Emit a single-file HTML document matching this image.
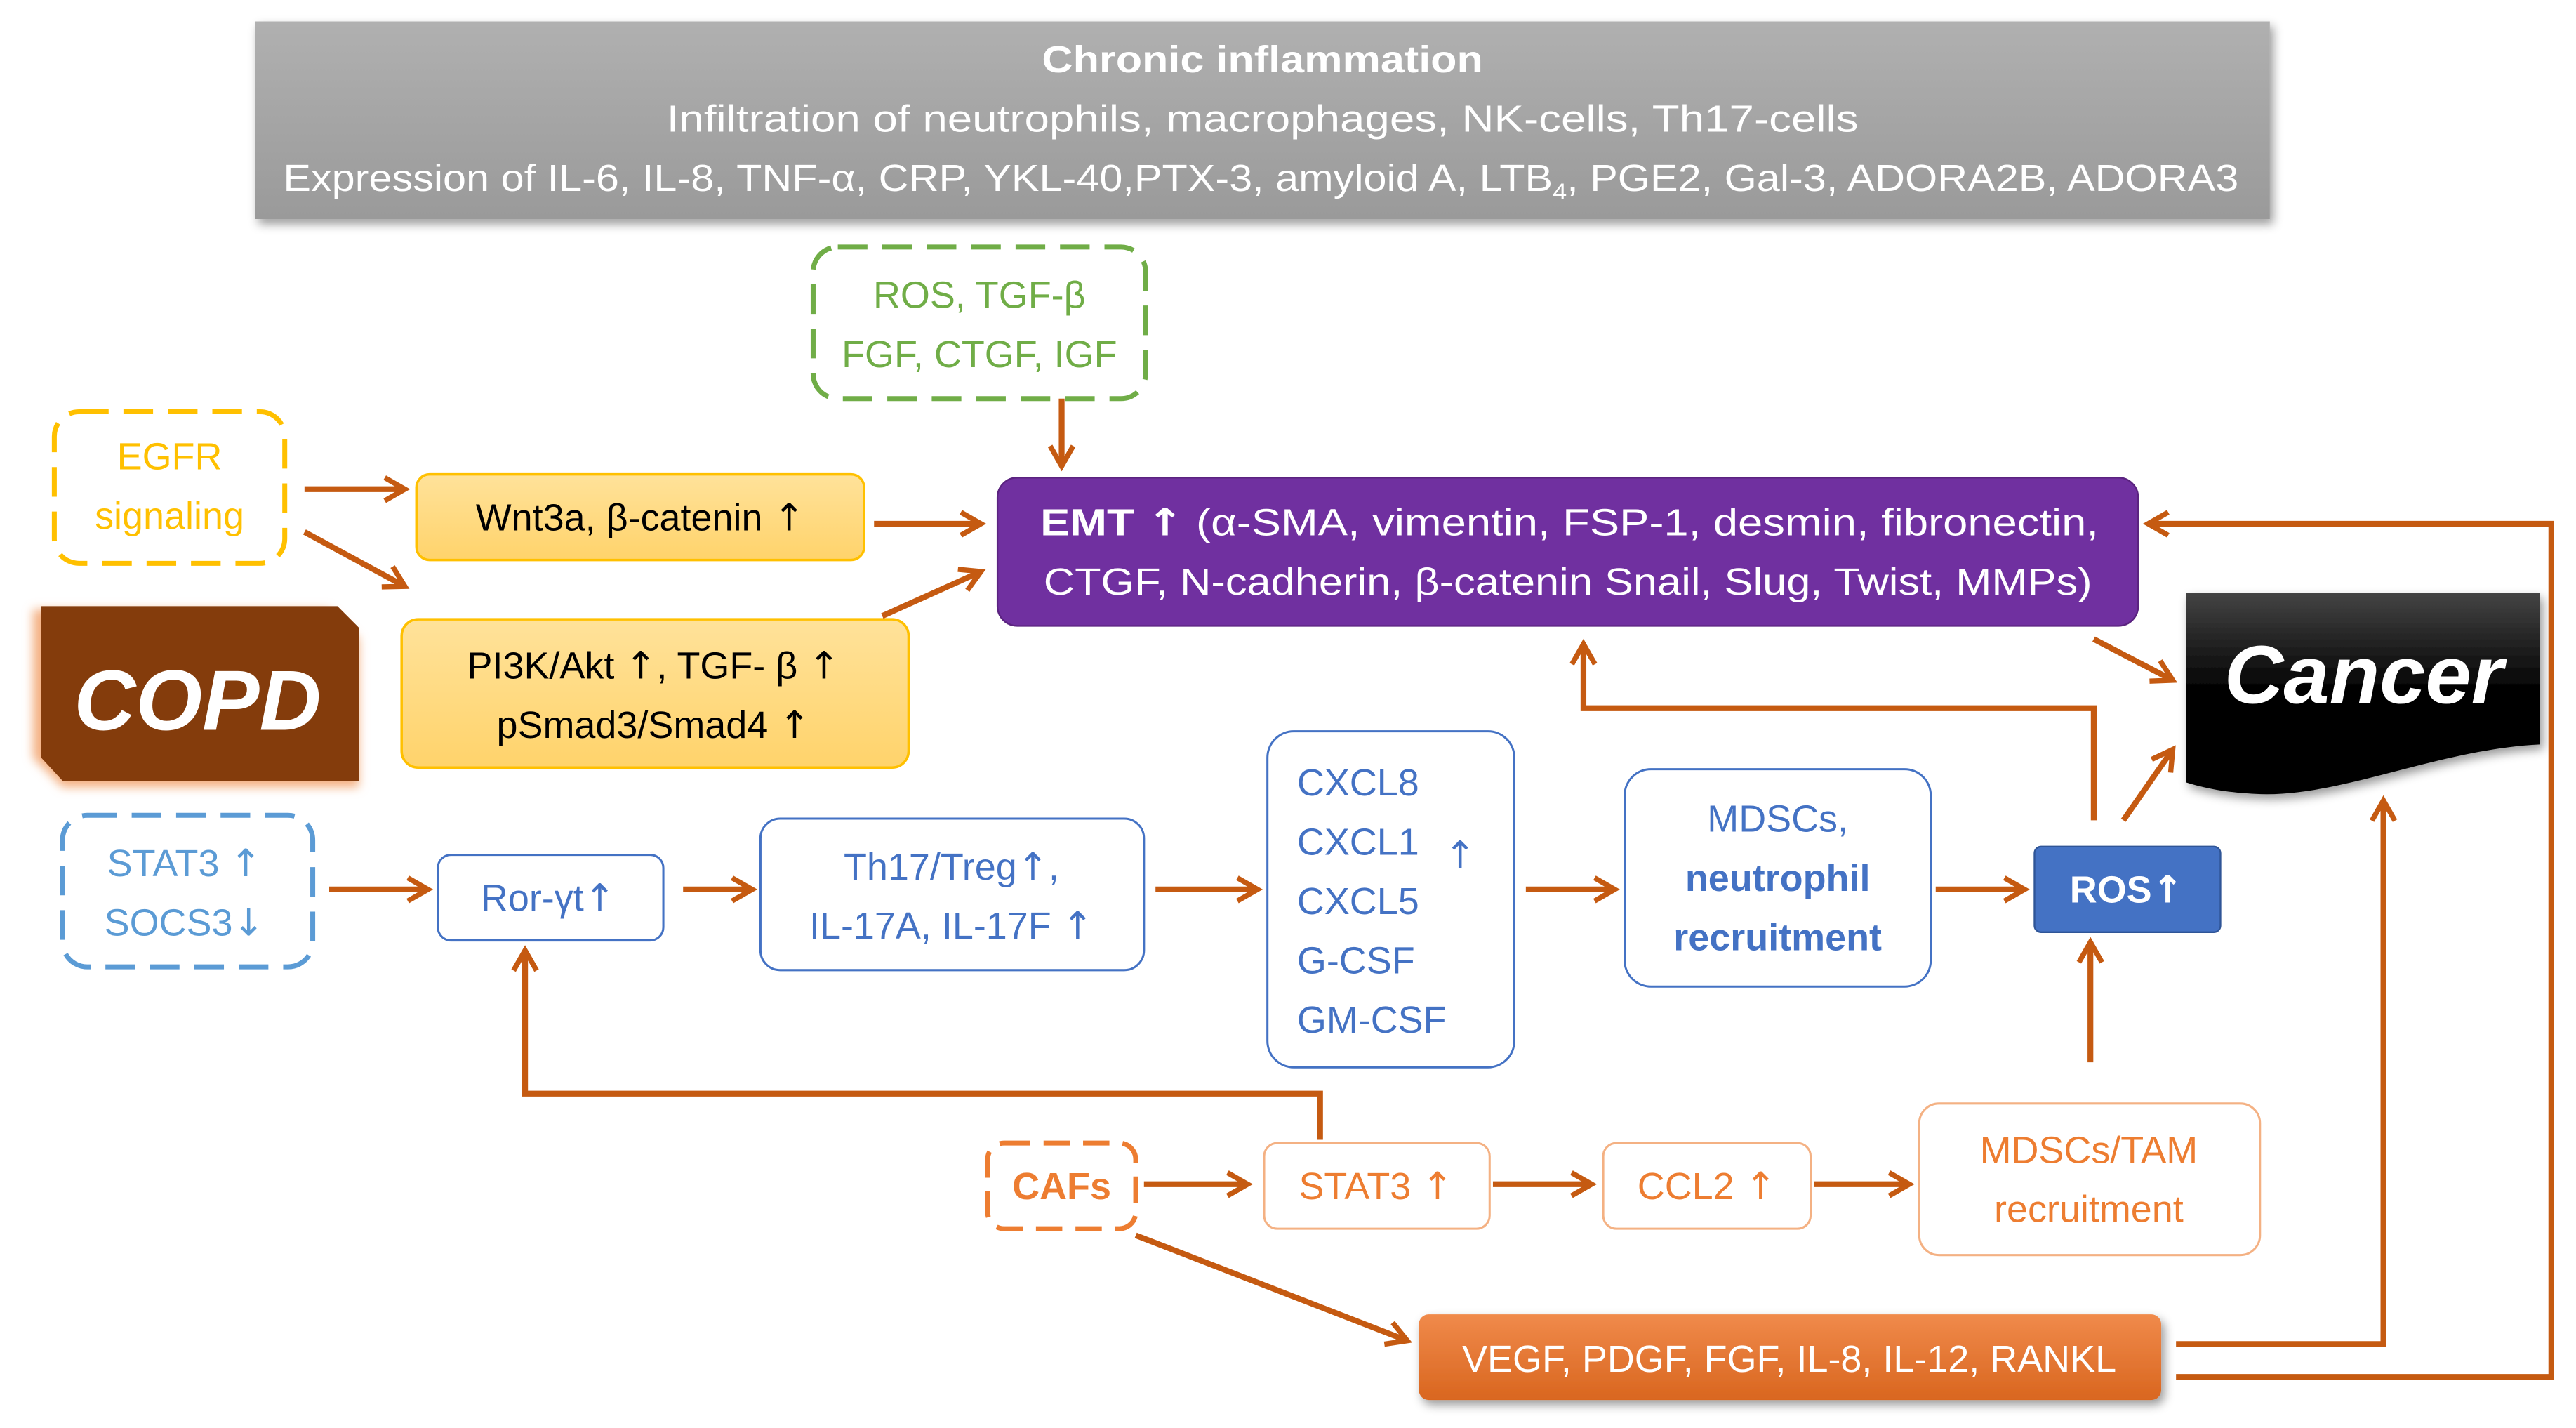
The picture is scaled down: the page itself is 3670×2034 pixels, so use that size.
<!DOCTYPE html>
<html><head><meta charset="utf-8"><style>
html,body{margin:0;padding:0;background:#fff;}
svg{display:block;}
text{font-family:"Liberation Sans","DejaVu Sans",sans-serif;}
.ar{font-family:"DejaVu Sans",sans-serif;}
</style></head><body>
<svg width="3670" height="2034" viewBox="0 0 1565 867" preserveAspectRatio="none" xmlns="http://www.w3.org/2000/svg">
<defs>
<marker id="a" viewBox="0 0 10 10" refX="8" refY="5" markerWidth="5" markerHeight="5" orient="auto" markerUnits="strokeWidth">
<polyline points="1,1 8,5 1,9" fill="none" stroke="#C55A11" stroke-width="1.8"/>
</marker>
<linearGradient id="g" x1="0" y1="0" x2="0" y2="1"><stop offset="0" stop-color="#B0B0B0"/><stop offset="1" stop-color="#9A9A9A"/></linearGradient>
<linearGradient id="o" x1="0" y1="0" x2="0" y2="1"><stop offset="0" stop-color="#F08A4B"/><stop offset="1" stop-color="#D9661F"/></linearGradient>
<linearGradient id="y" x1="0" y1="0" x2="0" y2="1"><stop offset="0" stop-color="#FFE29A"/><stop offset="1" stop-color="#FFD36B"/></linearGradient>
<linearGradient id="k" x1="0" y1="0" x2="0" y2="1"><stop offset="0" stop-color="#444"/><stop offset="0.5" stop-color="#000"/><stop offset="1" stop-color="#000"/></linearGradient>
<filter id="s" x="-10%" y="-20%" width="120%" height="150%"><feDropShadow dx="2" dy="3" stdDeviation="3" flood-opacity="0.4"/></filter>
<filter id="gl" x="-20%" y="-20%" width="140%" height="140%"><feGaussianBlur stdDeviation="3"/></filter>
</defs>

<rect x="155" y="13" width="1224" height="120" fill="url(#g)" filter="url(#s)"/>
<g fill="#fff" font-size="23">
<text x="633" y="44" font-weight="bold" textLength="268" lengthAdjust="spacingAndGlyphs">Chronic inflammation</text>
<text x="405" y="80" textLength="724" lengthAdjust="spacingAndGlyphs">Infiltration of neutrophils, macrophages, NK-cells, Th17-cells</text>
<text x="172" y="116" textLength="1188" lengthAdjust="spacingAndGlyphs">Expression of IL-6, IL-8, TNF-α, CRP, YKL-40,PTX-3, amyloid A, LTB<tspan font-size="14" dy="5">4</tspan><tspan dy="-5">, PGE2, Gal-3, ADORA2B, ADORA3</tspan></text>
</g>

<rect x="494" y="150" width="202" height="92" rx="15" fill="none" stroke="#70AD47" stroke-width="3" stroke-dasharray="18,9"/>
<g fill="#70AD47" font-size="23" text-anchor="middle"><text x="595" y="187">ROS, TGF-β</text><text x="595" y="223">FGF, CTGF, IGF</text></g>

<rect x="33" y="250" width="140" height="92" rx="15" fill="none" stroke="#FFC000" stroke-width="3" stroke-dasharray="18,9"/>
<g fill="#FFC000" font-size="23" text-anchor="middle"><text x="103" y="285">EGFR</text><text x="103" y="321">signaling</text></g>

<rect x="253" y="288" width="272" height="52" rx="8" fill="url(#y)" stroke="#FFC000" stroke-width="1.5"/>
<text x="389" y="322" font-size="23" text-anchor="middle">Wnt3a, β-catenin <tspan class="ar">↑</tspan></text>
<rect x="244" y="376" width="308" height="90" rx="10" fill="url(#y)" stroke="#FFC000" stroke-width="1.5"/>
<g font-size="23" text-anchor="middle"><text x="397" y="412">PI3K/Akt <tspan class="ar">↑</tspan>, TGF- β <tspan class="ar">↑</tspan></text><text x="397" y="448">pSmad3/Smad4 <tspan class="ar">↑</tspan></text></g>

<rect x="606" y="290" width="693" height="90" rx="12" fill="#7030A0" stroke="#5B2380" stroke-width="1"/>
<g fill="#fff" font-size="23"><text x="632" y="325" textLength="643" lengthAdjust="spacingAndGlyphs"><tspan font-weight="bold">EMT <tspan class="ar">↑</tspan></tspan> (α-SMA, vimentin, FSP-1, desmin, fibronectin,</text><text x="634" y="361" textLength="637" lengthAdjust="spacingAndGlyphs">CTGF, N-cadherin, β-catenin Snail, Slug, Twist, MMPs)</text></g>

<polygon points="20,370 200,370 218,388 218,478 38,478 20,460" fill="#F4B183" filter="url(#gl)"/>
<polygon points="25,368 205,368 218,381 218,474 38,474 25,460" fill="#843C0C"/>
<text x="120" y="443" font-size="52" font-style="italic" font-weight="bold" fill="#fff" text-anchor="middle">COPD</text>

<path d="M1328,360 L1543,360 L1543,452 C1480,455 1420,485 1370,482 C1350,481 1338,478 1328,475 Z" fill="url(#k)" filter="url(#s)"/>
<text x="1436" y="427" font-size="50" font-style="italic" font-weight="bold" fill="#fff" text-anchor="middle">Cancer</text>

<rect x="38" y="495" width="152" height="92" rx="15" fill="none" stroke="#5B9BD5" stroke-width="3" stroke-dasharray="18,9"/>
<g fill="#5B9BD5" font-size="23" text-anchor="middle"><text x="112" y="532">STAT3 <tspan class="ar">↑</tspan></text><text x="112" y="568">SOCS3<tspan class="ar">↓</tspan></text></g>
<g fill="none" stroke="#4472C4" stroke-width="1.3">
<rect x="266" y="519" width="137" height="52" rx="8"/>
<rect x="462" y="497" width="233" height="92" rx="12"/>
<rect x="770" y="444" width="150" height="204" rx="16"/>
<rect x="987" y="467" width="186" height="132" rx="16"/>
</g>
<g fill="#4472C4" font-size="23">
<text x="333" y="553" text-anchor="middle">Ror-γt<tspan class="ar">↑</tspan></text>
<text x="578" y="534" text-anchor="middle">Th17/Treg<tspan class="ar">↑</tspan>,</text>
<text x="578" y="570" text-anchor="middle">IL-17A, IL-17F <tspan class="ar">↑</tspan></text>
<text x="788" y="483">CXCL8</text><text x="788" y="519">CXCL1</text><text x="788" y="555">CXCL5</text><text x="788" y="591">G-CSF</text><text x="788" y="627">GM-CSF</text>
<text x="887" y="527" text-anchor="middle" class="ar">↑</text>
<text x="1080" y="505" text-anchor="middle">MDSCs,</text>
<text x="1080" y="541" text-anchor="middle" font-weight="bold">neutrophil</text>
<text x="1080" y="577" text-anchor="middle" font-weight="bold">recruitment</text>
</g>
<rect x="1236" y="514" width="113" height="52" rx="4" fill="#4472C4" stroke="#2F5597" stroke-width="1"/>
<text x="1292" y="548" font-size="23" font-weight="bold" fill="#fff" text-anchor="middle">ROS<tspan class="ar">↑</tspan></text>

<rect x="600" y="694" width="90" height="52" rx="10" fill="none" stroke="#ED7D31" stroke-width="3" stroke-dasharray="16,8"/>
<text x="645" y="728" font-size="23" font-weight="bold" fill="#ED7D31" text-anchor="middle">CAFs</text>
<g fill="none" stroke="#F4B183" stroke-width="1.3">
<rect x="768" y="694" width="137" height="52" rx="8"/>
<rect x="974" y="694" width="126" height="52" rx="8"/>
<rect x="1166" y="670" width="207" height="92" rx="12"/>
</g>
<g fill="#ED7D31" font-size="23" text-anchor="middle">
<text x="836" y="728">STAT3 <tspan class="ar">↑</tspan></text>
<text x="1037" y="728">CCL2 <tspan class="ar">↑</tspan></text>
<text x="1269" y="706">MDSCs/TAM</text>
<text x="1269" y="742">recruitment</text>
</g>
<rect x="862" y="798" width="451" height="52" rx="6" fill="url(#o)" filter="url(#s)"/>
<text x="1087" y="833" font-size="23" fill="#fff" text-anchor="middle">VEGF, PDGF, FGF, IL-8, IL-12, RANKL</text>

<g fill="none" stroke="#C55A11" stroke-width="3.5" marker-end="url(#a)">
<line x1="645" y1="242" x2="645" y2="283"/>
<line x1="185" y1="297" x2="246" y2="297"/>
<line x1="185" y1="323" x2="246" y2="356"/>
<line x1="531" y1="318" x2="596" y2="318"/>
<line x1="536" y1="374" x2="596" y2="347"/>
<line x1="200" y1="540" x2="260" y2="540"/>
<line x1="415" y1="540" x2="457" y2="540"/>
<line x1="702" y1="540" x2="764" y2="540"/>
<line x1="927" y1="540" x2="981" y2="540"/>
<line x1="1176" y1="540" x2="1230" y2="540"/>
<line x1="1270" y1="645" x2="1270" y2="572"/>
<line x1="1290" y1="498" x2="1320" y2="455"/>
<polyline points="1272,498 1272,430 962,430 962,391"/>
<line x1="1272" y1="388" x2="1320" y2="413"/>
<polyline points="1322,816 1448,816 1448,486"/>
<polyline points="1322,836 1550,836 1550,318 1305,318"/>
<line x1="695" y1="719" x2="758" y2="719"/>
<line x1="907" y1="719" x2="967" y2="719"/>
<line x1="1102" y1="719" x2="1160" y2="719"/>
<line x1="690" y1="750" x2="855" y2="814"/>
<polyline points="802,692 802,664 319,664 319,577"/>
</g>
</svg>
</body></html>
